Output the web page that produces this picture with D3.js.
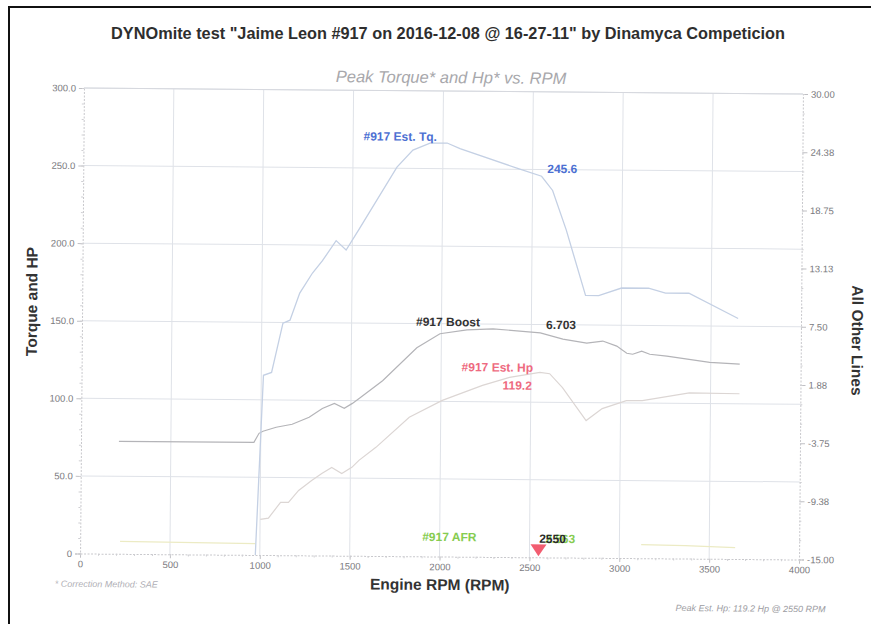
<!DOCTYPE html>
<html>
<head>
<meta charset="utf-8">
<script src="https://cdn.jsdelivr.net/npm/d3@7"></script>
<style>
  html, body { margin: 0; padding: 0; background: #ffffff; }
  svg { display: block; font-family: "Liberation Sans", Arial, sans-serif; }
</style>
</head>
<body>
<svg id="chart" width="871" height="624"></svg>
<script>
// Dyno run: engine speed (RPM) against torque / power (left axis) and boost / AFR (right axis)
const rpmTicks = [0, 500, 1000, 1500, 2000, 2500, 3000, 3500, 4000];
const leftTicks = [0, 50, 100, 150, 200, 250, 300];
const leftTickLabels = ["0", "50.0", "100.0", "150.0", "200.0", "250.0", "300.0"];
const rightTicks = [-15, -9.375, -3.75, 1.875, 7.5, 13.125, 18.75, 24.375, 30];
const rightTickLabels = ["-15.00", "-9.38", "-3.75", "1.88", "7.50", "13.13", "18.75", "24.38", "30.00"];

// Estimated torque
const tqRpm = [975, 1012, 1057, 1118, 1157, 1210, 1280, 1335, 1410, 1466, 1535, 1745, 1833, 1928, 2023, 2095, 2412, 2550, 2612, 2690, 2800, 2873, 3000, 3150, 3245, 3375, 3650];
const tqVal = [0, 115.8, 117.7, 149.5, 151.5, 169, 182, 190, 203, 197, 210, 250.7, 261.8, 266.4, 266.5, 263, 250.7, 245.6, 236.5, 211, 169, 169, 174, 174, 171, 171, 155];

// Estimated horsepower
const hpRpm = [1001, 1046, 1113, 1157, 1213, 1285, 1341, 1396, 1452, 1508, 1547, 1641, 1825, 2008, 2231, 2381, 2550, 2604, 2676, 2809, 2898, 3032, 3121, 3382, 3661];
const hpVal = [22.9, 23.8, 34, 34, 41.8, 48.3, 52.9, 56.8, 53, 57, 61.5, 70, 89.6, 100.6, 110.5, 115.8, 119.2, 118.4, 109.5, 88.4, 96.2, 101.4, 101.5, 106.8, 106.5];

// Boost pressure (right axis)
const boostRpm = [211, 962, 990, 1012, 1085, 1174, 1268, 1341, 1408, 1463, 1508, 1547, 1675, 1864, 1992, 2142, 2287, 2550, 2676, 2809, 2898, 2976, 3032, 3065, 3115, 3160, 3255, 3494, 3661];
const boostVal = [-4.13, -4.12, -3.24, -3.04, -2.64, -2.34, -1.65, -0.78, -0.29, -0.75, -0.27, 0.23, 1.95, 5.16, 6.53, 6.93, 7.05, 6.703, 6.12, 5.75, 5.96, 5.48, 4.8, 4.71, 5.01, 4.72, 4.55, 3.99, 3.83];

// Air/fuel ratio trace (right axis); NaN marks a gap in the recording
const afrRpm = [222, 975, 2000, 3121, 3366, 3644];
const afrVal = [-13.8, -13.9, NaN, -13.68, -13.75, -13.9];

const peakRpm = 2550;

const svg = d3.select("#chart");
const m = { left: 82, right: 801, top: 91, bottom: 556.5 };

// page frame
svg.append("rect").attr("x", 9).attr("y", 7).attr("width", 880).attr("height", 640)
  .attr("fill", "none").attr("stroke", "#111").attr("stroke-width", 2);

svg.append("text").attr("x", 448).attr("y", 39).attr("text-anchor", "middle")
  .attr("font-size", 16.3).attr("font-weight", "bold").attr("fill", "#2e2e2e")
  .text('DYNOmite test "Jaime Leon #917 on 2016-12-08 @ 16-27-11" by Dinamyca Competicion');

// the plot itself sits slightly tilted on the page
const g = svg.append("g").attr("transform", "rotate(0.48, 441, 323)");

const x = d3.scaleLinear().domain([0, 4000]).range([m.left, m.right]);
const yL = d3.scaleLinear().domain([0, 300]).range([m.bottom, m.top]);
const yR = d3.scaleLinear().domain([-15, 30]).range([m.bottom, m.top]);

g.append("text").attr("x", 449).attr("y", 83).attr("text-anchor", "middle")
  .attr("font-size", 16.5).attr("font-style", "italic").attr("fill", "#a8a8ac")
  .text("Peak Torque* and Hp* vs. RPM");

// grid
const gridCol = "#dfe2e8";
g.append("g").selectAll("line").data(leftTicks.slice(1)).join("line")
  .attr("x1", m.left).attr("x2", m.right)
  .attr("y1", d => yL(d)).attr("y2", d => yL(d))
  .attr("stroke", gridCol).attr("stroke-width", 1);
g.append("g").selectAll("line").data(rpmTicks.slice(1, -1)).join("line")
  .attr("x1", d => x(d)).attr("x2", d => x(d))
  .attr("y1", m.top).attr("y2", m.bottom)
  .attr("stroke", gridCol).attr("stroke-width", 1);

// axes
function styleAxis(sel) {
  sel.select(".domain").attr("stroke", "#c8c8cc").attr("stroke-dasharray", "2,1.5");
  sel.selectAll(".tick line").attr("stroke", "#c0c0c4");
  sel.selectAll(".tick text").attr("fill", "#7a7a7e").attr("font-size", 9.5)
    .attr("font-family", "Liberation Sans, Arial, sans-serif");
}
const axL = g.append("g").attr("transform", `translate(${m.left},0)`)
  .call(d3.axisLeft(yL).tickValues(leftTicks).tickSize(5).tickPadding(3)
    .tickFormat((d, i) => leftTickLabels[i]));
styleAxis(axL);
const axLminor = g.append("g").attr("transform", `translate(${m.left},0)`)
  .call(d3.axisLeft(yL).tickValues(d3.range(0, 301, 10)).tickSize(2).tickFormat(""));
axLminor.select(".domain").remove();
axLminor.selectAll("line").attr("stroke", "#cfcfd3");

const axR = g.append("g").attr("transform", `translate(${m.right},0)`)
  .call(d3.axisRight(yR).tickValues(rightTicks).tickSize(5).tickPadding(3)
    .tickFormat((d, i) => rightTickLabels[i]));
styleAxis(axR);
const axRminor = g.append("g").attr("transform", `translate(${m.right},0)`)
  .call(d3.axisRight(yR).tickValues(d3.range(-15, 30.01, 1.875)).tickSize(2).tickFormat(""));
axRminor.select(".domain").remove();
axRminor.selectAll("line").attr("stroke", "#cfcfd3");

const axB = g.append("g").attr("transform", `translate(0,${m.bottom})`)
  .call(d3.axisBottom(x).tickValues(rpmTicks).tickSize(4).tickPadding(3).tickFormat(d3.format("d")));
styleAxis(axB);
const axBminor = g.append("g").attr("transform", `translate(0,${m.bottom})`)
  .call(d3.axisBottom(x).tickValues(d3.range(0, 4001, 100)).tickSize(2).tickFormat(""));
axBminor.select(".domain").remove();
axBminor.selectAll("line").attr("stroke", "#cfcfd3");

// top border of plot
g.append("line").attr("x1", m.left).attr("x2", m.right).attr("y1", m.top).attr("y2", m.top)
  .attr("stroke", "#d6d8de");

// series
const lineL = (xs, ys) => d3.line().defined((d, i) => !isNaN(ys[i]))
  .x((d, i) => x(xs[i])).y((d, i) => yL(ys[i]))(xs);
const lineR = (xs, ys) => d3.line().defined((d, i) => !isNaN(ys[i]))
  .x((d, i) => x(xs[i])).y((d, i) => yR(ys[i]))(xs);

g.append("path").attr("d", lineR(afrRpm, afrVal)).attr("fill", "none")
  .attr("stroke", "#ecebc4").attr("stroke-width", 1.2);
g.append("path").attr("d", lineL(hpRpm, hpVal)).attr("fill", "none")
  .attr("stroke", "#dcd6d4").attr("stroke-width", 1.2);
g.append("path").attr("d", lineR(boostRpm, boostVal)).attr("fill", "none")
  .attr("stroke", "#b4b4b8").attr("stroke-width", 1.2);
g.append("path").attr("d", lineL(tqRpm, tqVal)).attr("fill", "none")
  .attr("stroke", "#c4d0e4").attr("stroke-width", 1.3);

// peak marker
const mx = x(peakRpm), my = m.bottom - 1;
g.append("path")
  .attr("d", `M${mx - 8},${my - 12} L${mx + 8},${my - 12} L${mx},${my} Z`)
  .attr("fill", "#f25d70");

// series labels
const lab = (tx, ty, txt, col, size) => g.append("text").attr("x", tx).attr("y", ty)
  .attr("font-size", size || 12).attr("font-weight", "bold").attr("fill", col).text(txt);
lab(362, 141, "#917 Est. Tq.", "#4c6fd2");
lab(546, 172, "245.6", "#4c6fd2");
lab(416, 326, "#917 Boost", "#333333");
lab(546, 328, "6.703", "#333333");
lab(462, 371, "#917 Est. Hp", "#ee6a80");
lab(503, 389, "119.2", "#ee6a80");
lab(424, 541, "#917 AFR", "#86cc50");
// the AFR value and the peak RPM are printed on top of each other at the peak
lab(547, 542, "2.563", "#86cc50");
lab(541, 542, "2550", "#2a2a2a");

// axis titles
g.append("text").attr("transform", "translate(37,305) rotate(-90)").attr("text-anchor", "middle")
  .attr("font-size", 15.5).attr("font-weight", "bold").attr("fill", "#333").text("Torque and HP");
g.append("text").attr("transform", "translate(852,337) rotate(90)").attr("text-anchor", "middle")
  .attr("font-size", 15.5).attr("font-weight", "bold").attr("fill", "#333").text("All Other Lines");
g.append("text").attr("x", 442).attr("y", 590).attr("text-anchor", "middle")
  .attr("font-size", 15.5).attr("font-weight", "bold").attr("fill", "#333").text("Engine RPM (RPM)");

g.append("text").attr("x", 57).attr("y", 590).attr("font-size", 9).attr("font-style", "italic")
  .attr("fill", "#b0b0b6").text("* Correction Method: SAE");
g.append("text").attr("x", 828).attr("y", 609).attr("text-anchor", "end").attr("font-size", 9)
  .attr("font-style", "italic").attr("fill", "#9c9ca2").text("Peak Est. Hp: 119.2 Hp @ 2550 RPM");
</script>
</body>
</html>
